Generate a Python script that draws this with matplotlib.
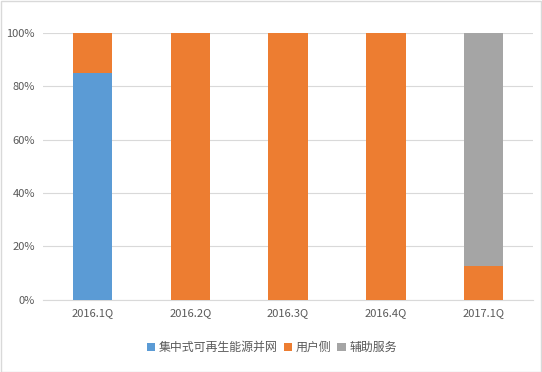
import matplotlib.pyplot as plt
import numpy as np
from matplotlib.patches import Rectangle

plt.rcParams['font.family'] = ['Noto Sans CJK SC', 'DejaVu Sans']

# data
quarters = ['2016.1Q', '2016.2Q', '2016.3Q', '2016.4Q', '2017.1Q']
centralized = [85, 0, 0, 0, 0]
user_side = [15, 100, 100, 100, 12.5]
ancillary = [0, 0, 0, 0, 87.5]
series_names = ['集中式可再生能源并网', '用户侧', '辅助服务']

colors = ['#5B9BD5', '#ED7D31', '#A5A5A5']

fig = plt.figure(figsize=(5.42, 3.72), dpi=100)
ax = fig.add_axes([0.08, 0.194, 0.903, 0.717])

x = np.arange(len(quarters))
w = 0.4
bottom = np.zeros(len(quarters))
for vals, name, c in zip([centralized, user_side, ancillary], series_names, colors):
    ax.bar(x, vals, w, bottom=bottom, color=c, label=name, zorder=3)
    bottom += np.array(vals)

ax.set_xlim(-0.5, len(quarters) - 0.5)
ax.set_ylim(0, 100)
ax.set_yticks(range(0, 101, 20))
ax.set_yticklabels([f'{v}%' for v in range(0, 101, 20)])
ax.set_xticks(x)
ax.set_xticklabels(quarters)
ax.yaxis.grid(True, color='#D9D9D9', linewidth=0.8, zorder=0)
for s in ['top', 'right', 'left']:
    ax.spines[s].set_visible(False)
ax.spines['bottom'].set_color('#D9D9D9')
ax.tick_params(axis='both', length=0, colors='#595959', labelsize=8)
ax.tick_params(axis='x', pad=6)
ax.tick_params(axis='y', pad=6)

ax.legend(loc='upper center', bbox_to_anchor=(0.467, -0.115), ncol=3, frameon=False,
          fontsize=8.6, handlelength=0.7, handleheight=0.7, handletextpad=0.3,
          columnspacing=0.5, labelcolor='#595959')

fig.patches.append(Rectangle((0.001, 0.001), 0.997, 0.997, transform=fig.transFigure,
                             fill=False, edgecolor='#D9D9D9', linewidth=1))

fig.savefig('out.png', dpi=100)
